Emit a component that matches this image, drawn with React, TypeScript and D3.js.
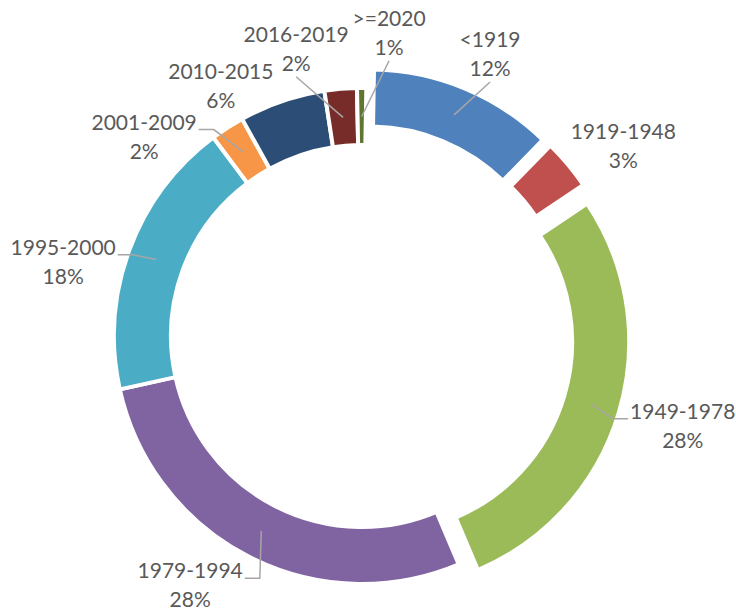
import React, { useEffect, useRef } from "react";
import * as d3 from "d3";

// construction period shares (percent of dwellings)
const periods = ["<1919", "1919-1948", "1949-1978", "1979-1994", "1995-2000", "2001-2009", "2010-2015", "2016-2019", ">=2020"];
const shares = [12.0, 3.3, 28.0, 27.9, 18.2, 2.2, 5.6, 2.1, 0.6];
const colors = ["#4F81BD", "#C0504D", "#9BBB59", "#8064A2", "#4BACC6", "#F79646", "#2C4D75", "#772C2A", "#5F7530"];
const exploded = [1, 1, 1, 0, 0, 0, 0, 0, 0];

// label placement (polar around the ring centre) and leader style
const labelAngle = [24.4, 54, 105.6, 214.6, 284, 312.5, 330.6, 347.1, 5.1];
const labelDist = [310, 323, 333, 302.6, 308, 295.5, 287.5, 295, 304.7];
const leaderKind = ["below", "none", "side", "side", "side", "side", "none", "below", "below"];

const App = () => {
  const svgRef = useRef<SVGSVGElement>(null);

  useEffect(() => {
    const width = 736, height = 614;
    const cx = 362, cy = 336, outerR = 248, innerR = 191, explode = 20;

    const svg = d3.select(svgRef.current)
      .attr("width", width)
      .attr("height", height)
      .style("background", "#fff");
    svg.selectAll("*").remove();

    const total = d3.sum(shares);
    const data = periods.map((p, i) => ({ name: p, value: shares[i], i }));

    const start = (1 * Math.PI) / 180;
    const pie = d3.pie<any>().sort(null).value(d => d.value)
      .startAngle(start).endAngle(start + 2 * Math.PI);
    const arcs = pie(data);

    const arc = d3.arc<any>().innerRadius(innerR).outerRadius(outerR);

    const g = svg.append("g").attr("transform", `translate(${cx},${cy})`);

    const offset = (d: any) => {
      const mid = (d.startAngle + d.endAngle) / 2;
      const k = exploded[d.data.i] ? explode : 0;
      return [Math.sin(mid) * k, -Math.cos(mid) * k];
    };

    g.selectAll("path.slice")
      .data(arcs)
      .enter().append("path")
      .attr("class", "slice")
      .attr("d", arc)
      .attr("transform", d => `translate(${offset(d)[0]},${offset(d)[1]})`)
      .attr("fill", d => colors[d.data.i])
      .attr("stroke", "#fff")
      .attr("stroke-width", 4)
      .attr("stroke-linejoin", "miter");

    const labels = svg.append("g")
      .attr("font-family", "Lato, 'Open Sans', sans-serif")
      .attr("font-size", 21)
      .attr("fill", "#595959")
      .attr("text-anchor", "middle");

    arcs.forEach(d => {
      const i = d.data.i;
      const a = (labelAngle[i] * Math.PI) / 180;
      const lx = cx + Math.sin(a) * labelDist[i];
      const ly = cy - Math.cos(a) * labelDist[i];
      const b1 = ly - 6.75, b2 = ly + 22.25;

      const t1 = labels.append("text").attr("x", lx).attr("y", b1).text(d.data.name);
      labels.append("text").attr("x", lx).attr("y", b2)
        .text(Math.round((d.data.value / total) * 100) + "%");

      if (leaderKind[i] === "none") return;

      const mid = (d.startAngle + d.endAngle) / 2;
      const rm = (innerR + outerR) / 2 + (exploded[i] ? explode : 0);
      const tx = cx + Math.sin(mid) * rm;
      const ty = cy - Math.cos(mid) * rm;

      let pts: [number, number][];
      if (leaderKind[i] === "side") {
        const w = (t1.node() as SVGTextElement).getComputedTextLength();
        const dir = tx > lx ? 1 : -1;
        const sx = lx + dir * (w / 2 + 2);
        pts = [[sx, b1], [sx + dir * 15, b1], [tx, ty]];
      } else {
        pts = [[lx, b2 + 6], [tx, ty]];
      }
      svg.append("path")
        .attr("d", d3.line()(pts))
        .attr("fill", "none")
        .attr("stroke", "#A6A6A6")
        .attr("stroke-width", 1.5);
    });
  }, []);

  return <svg ref={svgRef} style={{ position: "absolute", left: 0, top: 0 }}></svg>;
};

export default App;
